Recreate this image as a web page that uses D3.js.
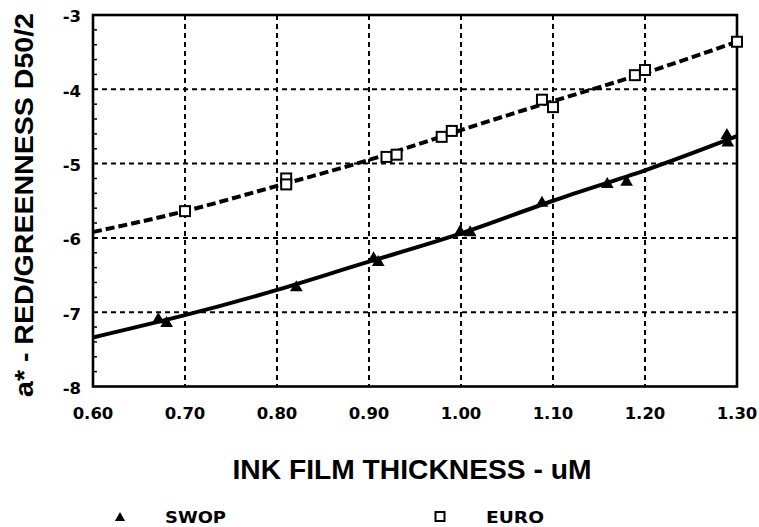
<!DOCTYPE html>
<html>
<head>
<meta charset="utf-8">
<script src="https://cdn.jsdelivr.net/npm/d3@7"></script>
<style>
body { margin: 0; background: #fff; }
svg { display: block; }
</style>
</head>
<body>
<svg width="759" height="527"></svg>
<script>

var xTicks = [0.60, 0.70, 0.80, 0.90, 1.00, 1.10, 1.20, 1.30];
var yTicks = [-3, -4, -5, -6, -7, -8];

// measured points
var swopX = [0.671, 0.680, 0.821, 0.905, 0.910, 0.999, 1.010, 1.088, 1.159, 1.180, 1.289, 1.290];
var swopY = [-7.10, -7.15, -6.67, -6.28, -6.33, -5.92, -5.93, -5.53, -5.28, -5.25, -4.62, -4.72];

var euroX = [0.700, 0.810, 0.810, 0.919, 0.930, 0.979, 0.990, 1.088, 1.100, 1.189, 1.200, 1.300];
var euroY = [-5.64, -5.20, -5.28, -4.91, -4.88, -4.64, -4.56, -4.14, -4.24, -3.81, -3.74, -3.36];

// fitted curves
var fitX = [0.60, 0.70, 0.80, 0.90, 1.00, 1.10, 1.20, 1.30];
var swopFit = [-7.34, -7.04, -6.70, -6.32, -5.94, -5.50, -5.09, -4.63];
var euroFit = [-5.92, -5.64, -5.30, -4.95, -4.55, -4.16, -3.78, -3.36];

var svg = d3.select('svg');

var x = d3.scaleLinear().domain([0.60, 1.30]).range([93, 737]);
var y = d3.scaleLinear().domain([-8, -3]).range([386.5, 15]);

var tickFont = 'DejaVu Sans, Arial, sans-serif';
var titleFont = 'Liberation Sans, Arial, sans-serif';

// grid
svg.append('g')
    .selectAll('line')
    .data(xTicks.slice(1, -1))
    .join('line')
    .attr('x1', d => x(d)).attr('x2', d => x(d))
    .attr('y1', y(-3)).attr('y2', y(-8))
    .attr('stroke', '#000')
    .attr('stroke-width', 2)
    .attr('stroke-dasharray', '5,4');

svg.append('g')
    .selectAll('line')
    .data(yTicks.slice(1, -1))
    .join('line')
    .attr('x1', x(0.60)).attr('x2', x(1.30))
    .attr('y1', d => y(d)).attr('y2', d => y(d))
    .attr('stroke', '#000')
    .attr('stroke-width', 2)
    .attr('stroke-dasharray', '5,4');

// minor ticks on the left axis
var minor = d3.range(-8, -3, 0.2).filter(d => Math.abs(d - Math.round(d)) > 0.01);
svg.append('g')
    .selectAll('line')
    .data(minor)
    .join('line')
    .attr('x1', x(0.60)).attr('x2', x(0.60) + 4)
    .attr('y1', d => y(d)).attr('y2', d => y(d))
    .attr('stroke', '#000')
    .attr('stroke-width', 1.5);

// frame
svg.append('rect')
    .attr('x', x(0.60))
    .attr('y', y(-3))
    .attr('width', x(1.30) - x(0.60))
    .attr('height', y(-8) - y(-3))
    .attr('fill', 'none')
    .attr('stroke', '#000')
    .attr('stroke-width', 2.6);

// tick labels
svg.append('g')
    .selectAll('text')
    .data(xTicks)
    .join('text')
    .attr('x', d => x(d))
    .attr('y', 419)
    .attr('text-anchor', 'middle')
    .attr('font-family', tickFont)
    .attr('font-weight', 'bold')
    .attr('font-size', 16.5)
    .text(d => d.toFixed(2));

svg.append('g')
    .selectAll('text')
    .data(yTicks)
    .join('text')
    .attr('x', 81)
    .attr('y', d => y(d))
    .attr('dy', '0.45em')
    .attr('text-anchor', 'end')
    .attr('font-family', tickFont)
    .attr('font-weight', 'bold')
    .attr('font-size', 16.5)
    .text(d => d);

// fitted lines
var line = d3.line()
    .x(d => x(d[0]))
    .y(d => y(d[1]))
    .curve(d3.curveNatural);

svg.append('path')
    .datum(fitX.map((d, i) => [d, swopFit[i]]))
    .attr('d', line)
    .attr('fill', 'none')
    .attr('stroke', '#000')
    .attr('stroke-width', 4);

svg.append('path')
    .datum(fitX.map((d, i) => [d, euroFit[i]]))
    .attr('d', line)
    .attr('fill', 'none')
    .attr('stroke', '#000')
    .attr('stroke-width', 4)
    .attr('stroke-dasharray', '9,4');

// markers
var tri = d3.symbol().type(d3.symbolTriangle).size(70);

svg.append('g')
    .selectAll('path')
    .data(swopX.map((d, i) => [d, swopY[i]]))
    .join('path')
    .attr('transform', d => 'translate(' + x(d[0]) + ',' + y(d[1]) + ')')
    .attr('d', tri)
    .attr('fill', '#000');

svg.append('g')
    .selectAll('rect')
    .data(euroX.map((d, i) => [d, euroY[i]]))
    .join('rect')
    .attr('x', d => x(d[0]) - 5)
    .attr('y', d => y(d[1]) - 5)
    .attr('width', 10)
    .attr('height', 10)
    .attr('fill', '#fff')
    .attr('stroke', '#000')
    .attr('stroke-width', 2);

// axis titles
svg.append('text')
    .attr('x', 412)
    .attr('y', 479)
    .attr('text-anchor', 'middle')
    .attr('font-family', titleFont)
    .attr('font-weight', 'bold')
    .attr('font-size', 28)
    .attr('textLength', 359)
    .attr('lengthAdjust', 'spacingAndGlyphs')
    .text('INK FILM THICKNESS - uM');

svg.append('text')
    .attr('transform', 'translate(33,205) rotate(-90)')
    .attr('text-anchor', 'middle')
    .attr('font-family', titleFont)
    .attr('font-weight', 'bold')
    .attr('font-size', 26)
    .attr('textLength', 384)
    .attr('lengthAdjust', 'spacingAndGlyphs')
    .text('a* - RED/GREENNESS D50/2');

// legend
svg.append('path')
    .attr('transform', 'translate(120,518)')
    .attr('d', d3.symbol().type(d3.symbolTriangle).size(45))
    .attr('fill', '#000');

svg.append('text')
    .attr('x', 165)
    .attr('y', 523)
    .attr('font-family', tickFont)
    .attr('font-weight', 'bold')
    .attr('font-size', 16)
    .attr('textLength', 61)
    .attr('lengthAdjust', 'spacingAndGlyphs')
    .text('SWOP');

svg.append('rect')
    .attr('x', 435.5)
    .attr('y', 512)
    .attr('width', 9)
    .attr('height', 9)
    .attr('fill', '#fff')
    .attr('stroke', '#000')
    .attr('stroke-width', 2);

svg.append('text')
    .attr('x', 486)
    .attr('y', 523)
    .attr('font-family', tickFont)
    .attr('font-weight', 'bold')
    .attr('font-size', 16)
    .attr('textLength', 58)
    .attr('lengthAdjust', 'spacingAndGlyphs')
    .text('EURO');

</script>
</body>
</html>
